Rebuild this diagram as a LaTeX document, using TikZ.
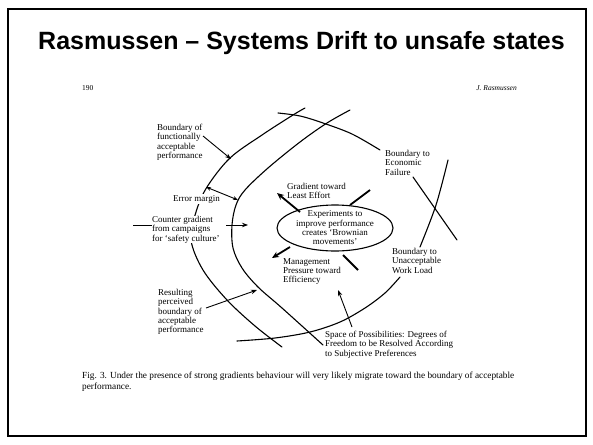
\documentclass[tikz,border=0pt]{standalone}
\usepackage{fontspec}
\setmainfont{Liberation Serif}
\newfontfamily\titlefont{Liberation Sans}
\usetikzlibrary{arrows.meta}
\begin{document}
\begin{tikzpicture}[x=1pt,y=-1pt,
  lbl/.style={font=\fontsize{9}{9.3}\selectfont, align=left, inner sep=0pt, anchor=north west},
  boundary/.style={line width=1.1pt, line cap=round},
  bigarrow/.style={line width=1.8pt, -{Stealth[length=7pt,width=6pt]}},
  bigline/.style={line width=1.8pt},
  pointer/.style={line width=0.9pt, -{Stealth[length=6pt,width=4.5pt]}},
  twoway/.style={line width=0.9pt, {Stealth[length=5pt,width=4pt]}-{Stealth[length=5pt,width=4pt]}}
]
\useasboundingbox (0,0) rectangle (593,444);
\fill[white] (0,0) rectangle (593,444);
\draw[line width=2pt] (7.5,9.5) rectangle (586,436);
\node[font=\titlefont\bfseries\fontsize{25}{29}\selectfont, inner sep=0pt, anchor=base west] (title) at (38,49) {Rasmussen – Systems Drift to unsafe states};

\node[font=\fontsize{7.5}{8}\selectfont, inner sep=0pt, anchor=base west] (page) at (82,90) {190};
\node[font=\itshape\fontsize{7.5}{8}\selectfont, inner sep=0pt, anchor=base east] (author) at (517,90) {J. Rasmussen};

% boundaries
\draw[boundary] plot[smooth,tension=0.55] coordinates {(305,108) (293,115) (262,135) (230,158) (207,187) (196,212) (191,240) (203,270) (227,300) (255,326) (282,347)};
\draw[boundary] plot[smooth,tension=0.55] coordinates {(350,110) (327,123) (300,142) (268,168) (245,190) (236,205) (232,225) (233,248) (242,268) (258,287) (282,308) (323,345)};
\draw[boundary] plot[smooth,tension=0.55] coordinates {(278,113) (300,116) (323,123) (352,134) (380,150)};
\draw[boundary] (413,177) -- (457,240);
\draw[boundary] plot[smooth,tension=0.55] coordinates {(237,341) (275,338) (310,332) (340,322) (365,308) (385,293) (400,277)};
\draw[boundary] plot[smooth,tension=0.55] coordinates {(420,247) (436,205) (448,160)};

% centre
\draw[line width=1.1pt] (335,228) ellipse [x radius=58, y radius=23];
\node[font=\fontsize{9}{9.3}\selectfont, align=center, inner sep=0pt] (exp) at (335,228) {Experiments to\\improve performance\\creates `Brownian\\movements'};

\coordinate (e1) at (300,212); \coordinate (e1t) at (277,193);
\coordinate (e2) at (350,205); \coordinate (e2t) at (370,190);
\coordinate (e3) at (290,247); \coordinate (e3t) at (272,258);
\coordinate (e4) at (343,255); \coordinate (e4t) at (358,270);
\draw[bigarrow] (e1) -- (e1t);
\draw[bigline] (e2) -- (e2t);
\draw[bigarrow] (e3) -- (e3t);
\draw[bigline] (e4) -- (e4t);

% labels
\node[lbl] (bfap) at (157,124) {Boundary of\\functionally\\acceptable\\performance};
\node[lbl, anchor=base west, fill=white, inner sep=1pt] (err) at (172,201) {Error margin};
\node[lbl, fill=white] (counter) at (152,216) {Counter gradient\\from campaigns\\for `safety culture'};
\node[lbl] (result) at (158,289) {Resulting\\perceived\\boundary of\\acceptable\\performance};
\node[lbl] (grad) at (287,183) {Gradient toward\\Least Effort};
\node[lbl] (mgmt) at (283,258) {Management\\Pressure toward\\Efficiency};
\node[lbl] (econ) at (385,150) {Boundary to\\Economic\\Failure};
\node[lbl] (work) at (392,248) {Boundary to\\Unacceptable\\Work Load};
\node[lbl] (space) at (325,331) {Space of Possibilities: Degrees of\\Freedom to be Resolved According\\to Subjective Preferences};

% pointers
\coordinate (bfapS) at (203,136); \coordinate (bfapT) at (231,159);
\draw[pointer] (bfapS) -- (bfapT);
\coordinate (errA) at (206,187); \coordinate (errB) at (238,200);
\draw[twoway] (errA) -- (errB);
\coordinate (cgL) at (133,225); \coordinate (cgR) at (226,225); \coordinate (cgT) at (248,225);
\draw[line width=0.9pt] (cgL) -- (counter.west |- cgL);
\draw[pointer] (cgR) -- (cgT);
\coordinate (resS) at (206,308); \coordinate (resT) at (257,290);
\draw[pointer] (resS) -- (resT);
\coordinate (spS) at (352,327); \coordinate (spT) at (338,290);
\draw[pointer] (spS) -- (spT);

% caption
\node[font=\fontsize{9.3}{11}\selectfont, align=left, inner sep=0pt, anchor=north west] (caption) at (82,372) {Fig. 3. Under the presence of strong gradients behaviour will very likely migrate toward the boundary of acceptable\\performance.};
\end{tikzpicture}
\end{document}
